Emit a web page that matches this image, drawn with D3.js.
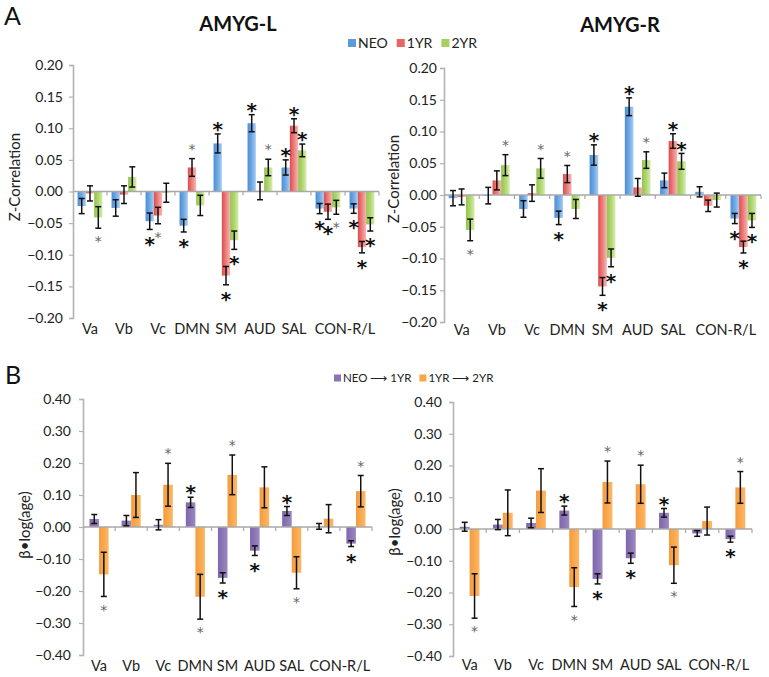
<!DOCTYPE html>
<html><head><meta charset="utf-8">
<script src="https://cdn.jsdelivr.net/npm/d3@7"></script>
<style>body{margin:0;background:#fff}</style>
</head><body>
<svg id="c" width="769" height="677"></svg>
<script>
// ---------------- DATA ----------------
const categories = ["Va","Vb","Vc","DMN","SM","AUD","SAL","CON-R","CON-L"];
const axisLabels = ["Va","Vb","Vc","DMN","SM","AUD","SAL","CON-R/L"];
const axisLabelGroups = [["Va"],["Vb"],["Vc"],["DMN"],["SM"],["AUD"],["SAL"],["CON-R","CON-L"]];
const seriesA = ["NEO","1YR","2YR"];
const seriesB = ["NEO \u27F6 1YR","1YR \u27F6 2YR"];
const yTicksA = [0.20,0.15,0.10,0.05,0.00,-0.05,-0.10,-0.15,-0.20];
const yTicksB = [0.40,0.30,0.20,0.10,0.00,-0.10,-0.20,-0.30,-0.40];

// A: AMYG-L (Z-correlation)
const amygLNeo    = [-0.023,-0.026,-0.047,-0.054, 0.076, 0.108, 0.038,-0.027,-0.027];
const amygLNeoErr = [ 0.012, 0.013, 0.013, 0.010, 0.015, 0.0135,0.012, 0.008, 0.0075];
const amygL1yr    = [-0.003,-0.005,-0.038, 0.038,-0.133, 0.001, 0.104,-0.032,-0.088];
const amygL1yrErr = [ 0.012, 0.014, 0.013, 0.014, 0.0145,0.014, 0.011, 0.012, 0.009];
const amygL2yr    = [-0.041, 0.023,-0.002,-0.022,-0.077, 0.038, 0.065,-0.025,-0.052];
const amygL2yrErr = [ 0.017, 0.016, 0.015, 0.016, 0.0145,0.013, 0.010, 0.011, 0.0105];
// significance: 0 none, 1 small asterisk, 2 bold asterisk
const amygLNeoSig = [0,0,2,2,2,2,2,2,2];
const amygL1yrSig = [0,0,1,1,2,0,2,2,2];
const amygL2yrSig = [1,0,0,0,2,1,2,1,2];

// A: AMYG-R
const amygRNeo    = [-0.005,-0.001,-0.022,-0.036, 0.063, 0.139, 0.023, 0.005,-0.037];
const amygRNeoErr = [ 0.012, 0.013, 0.013, 0.0106,0.016, 0.014, 0.0115,0.008, 0.008];
const amygR1yr    = [-0.003, 0.023, 0.003, 0.033,-0.144, 0.012, 0.085,-0.017,-0.082];
const amygR1yrErr = [ 0.0125,0.015, 0.013, 0.0135,0.014, 0.014, 0.0114,0.009, 0.0093];
const amygR2yr    = [-0.055, 0.047, 0.042,-0.022,-0.099, 0.055, 0.053,-0.008,-0.040];
const amygR2yrErr = [ 0.017, 0.0165,0.0155,0.015, 0.014, 0.013, 0.0125,0.011, 0.011];
const amygRNeoSig = [0,0,0,2,2,2,0,0,2];
const amygR1yrSig = [0,0,0,1,2,0,2,0,2];
const amygR2yrSig = [1,1,1,0,2,1,2,0,2];

// B: beta*log(age), left
const betaLNeo1yr     = [ 0.025, 0.020, 0.007, 0.077,-0.159,-0.074, 0.050, 0.002,-0.052];
const betaLNeo1yrErr  = [ 0.014, 0.016, 0.016, 0.016, 0.016, 0.015, 0.014, 0.009, 0.009];
const betaL1yr2yr     = [-0.148, 0.100, 0.132,-0.218, 0.163, 0.124,-0.143, 0.026, 0.112];
const betaL1yr2yrErr  = [ 0.069, 0.070, 0.067, 0.070, 0.062, 0.064, 0.050, 0.044, 0.049];
const betaLNeo1yrSig  = [0,0,0,2,2,2,2,0,2];
const betaL1yr2yrSig  = [1,0,1,1,1,0,1,0,1];

// B: right
const betaRNeo1yr     = [ 0.007, 0.014, 0.019, 0.058,-0.157,-0.092, 0.051,-0.014,-0.032];
const betaRNeo1yrErr  = [ 0.014, 0.016, 0.015, 0.014, 0.016, 0.016, 0.0136,0.009, 0.0094];
const betaR1yr2yr     = [-0.211, 0.051, 0.121,-0.183, 0.148, 0.141,-0.114, 0.025, 0.131];
const betaR1yr2yrErr  = [ 0.070, 0.072, 0.069, 0.061, 0.066, 0.060, 0.057, 0.044, 0.050];
const betaRNeo1yrSig  = [0,0,0,2,2,2,2,0,2];
const betaR1yr2yrSig  = [1,0,0,1,1,1,1,0,1];

// ---------------- DRAW ----------------
const FONT = "Lato, 'Open Sans', sans-serif";
const svg = d3.select("#c").style("font-family", FONT);
const defs = svg.append("defs");
function grad(id, stops){
  const g = defs.append("linearGradient").attr("id", id).attr("x1","0").attr("x2","1").attr("y1","0").attr("y2","0");
  stops.forEach((c,i)=> g.append("stop").attr("offset", (i/(stops.length-1)*100)+"%").attr("stop-color", c));
}
grad("gBlue",  ["#4d8ed6","#6ea8e4","#a9cdf1"]);
grad("gRed",   ["#de4c4a","#ec7f7d","#f6b7b5"]);
grad("gGreen", ["#93c449","#b0d672","#d7ecad"]);
grad("gPurple",["#7f67ab","#8c76b6","#9c88c2"]);
grad("gOrange",["#f59b3d","#f9a94f","#fbb868"]);

const colA = ["url(#gBlue)","url(#gRed)","url(#gGreen)"];
const colB = ["url(#gPurple)","url(#gOrange)"];
const legColA = ["#5c9ade","#e86563","#a6d161"];
const legColB = ["#8b74b4","#f9a54a"];

function drawPanel(p){
  const g = svg.append("g");
  const x0 = d3.scaleBand().domain(categories).range(p.xr).paddingInner(0).paddingOuter(0);
  const x1 = d3.scaleBand().domain(d3.range(p.series.length)).range([0, x0.bandwidth()]).paddingInner(0).paddingOuter(p.pad);
  const y = d3.scaleLinear().domain(p.dom).range(p.yr);

  // y axis
  const yAx = g.append("g").attr("transform", `translate(${p.xr[0]},0)`)
    .call(d3.axisLeft(y).tickValues(p.ticks).tickSize(4).tickPadding(p.tickPad).tickFormat(d3.format(".2f")));
  yAx.select(".domain").attr("stroke","#b3b3b3").attr("stroke-width",1.6);
  yAx.selectAll(".tick line").attr("stroke","#b3b3b3").attr("stroke-width",1.2);
  yAx.selectAll(".tick text").attr("fill","#222").style("font-size","14px").style("font-family",FONT);

  // bars
  p.series.forEach((s, si) => {
    const d = categories.map((c,i)=>({c, v:s.vals[i], e:s.errs[i], sig:s.sig[i]}));
    g.selectAll(null).data(d).enter().append("rect")
      .attr("x", k => x0(k.c) + x1(si))
      .attr("width", x1.bandwidth())
      .attr("y", k => y(Math.max(0,k.v)))
      .attr("height", k => Math.abs(y(k.v) - y(0)))
      .attr("fill", s.fill);
  });

  // zero line with ticks
  g.append("line").attr("x1",p.xr[0]).attr("x2",p.xr[1]).attr("y1",y(0)).attr("y2",y(0))
    .attr("stroke","#a8a8a8").attr("stroke-width",1.6);
  const bounds = categories.map(c=>x0(c)).slice(1).concat([p.xr[1]]);
  g.selectAll(null).data(bounds).enter().append("line")
    .attr("x1",d=>d).attr("x2",d=>d).attr("y1",y(0)).attr("y2",y(0)+4)
    .attr("stroke","#a8a8a8").attr("stroke-width",1.2);

  // error bars and asterisks
  p.series.forEach((s, si) => {
    const d = categories.map((c,i)=>({c, v:s.vals[i], e:s.errs[i], sig:s.sig[i]}));
    const cx = k => x0(k.c) + x1(si) + x1.bandwidth()/2;
    const eb = g.selectAll(null).data(d).enter().append("g").attr("stroke","#111").attr("stroke-width",1.5);
    eb.append("line").attr("x1",cx).attr("x2",cx).attr("y1",k=>y(k.v+k.e)).attr("y2",k=>y(k.v-k.e));
    eb.append("line").attr("x1",k=>cx(k)-3).attr("x2",k=>cx(k)+3).attr("y1",k=>y(k.v+k.e)).attr("y2",k=>y(k.v+k.e));
    eb.append("line").attr("x1",k=>cx(k)-3).attr("x2",k=>cx(k)+3).attr("y1",k=>y(k.v-k.e)).attr("y2",k=>y(k.v-k.e));

    g.selectAll(null).data(d.filter(k=>k.sig>0)).enter().append("text")
      .text("*")
      .attr("text-anchor","middle")
      .attr("x", cx)
      .attr("y", k => {
        const big = k.sig===2, fs = big?20:14;
        const off = big ? 9.5 : (k.v>=0 ? 13 : 10);
        const c = k.v>=0 ? y(k.v+k.e) - off : y(k.v-k.e) + off;
        return c + 0.58*fs;
      })
      .style("font-family","'DejaVu Sans', sans-serif")
      .style("font-weight", k=>k.sig===2?"bold":"normal")
      .style("font-size", k=>k.sig===2?"20px":"14px")
      .attr("fill", k=>k.sig===2?"#111":"#666");
  });

  // category labels
  g.selectAll(null).data(axisLabelGroups).enter().append("text")
    .attr("x", grp => d3.mean(grp, c => x0(c) + x0.bandwidth()/2))
    .attr("y", p.catY)
    .attr("text-anchor","middle")
    .style("font-size","14.5px").attr("fill","#222")
    .text((grp,i)=>axisLabels[i]);

  // y label
  g.append("text").attr("transform",`translate(${p.ylab[0]},${p.ylab[1]}) rotate(-90)`)
    .attr("text-anchor","middle").style("font-size","15px").attr("fill","#222").text(p.ylabText);

  // title
  if (p.title) g.append("text").attr("x",p.titleXY[0]).attr("y",p.titleXY[1]).attr("text-anchor","middle")
    .style("font-size","20px").style("font-weight","bold").attr("fill","#111").text(p.title);
}

const mk = (vals, errs, sig, fill) => ({vals, errs, sig, fill});

drawPanel({xr:[73,379], yr:[318,65], dom:[-0.2,0.2], ticks:yTicksA, tickPad:6, pad:0.55,
  series:[mk(amygLNeo,amygLNeoErr,amygLNeoSig,colA[0]), mk(amygL1yr,amygL1yrErr,amygL1yrSig,colA[1]), mk(amygL2yr,amygL2yrErr,amygL2yrSig,colA[2])],
  catY:334, ylab:[20,177], ylabText:"Z-Correlation", title:"AMYG-L", titleXY:[238,31]});
drawPanel({xr:[444,761], yr:[322,68], dom:[-0.2,0.2], ticks:yTicksA, tickPad:3, pad:0.55,
  series:[mk(amygRNeo,amygRNeoErr,amygRNeoSig,colA[0]), mk(amygR1yr,amygR1yrErr,amygR1yrSig,colA[1]), mk(amygR2yr,amygR2yrErr,amygR2yrSig,colA[2])],
  catY:335, ylab:[399,179], ylabText:"Z-Correlation", title:"AMYG-R", titleXY:[620,32]});
drawPanel({xr:[83,372], yr:[655,399], dom:[-0.4,0.4], ticks:yTicksB, tickPad:8, pad:0.68,
  series:[mk(betaLNeo1yr,betaLNeo1yrErr,betaLNeo1yrSig,colB[0]), mk(betaL1yr2yr,betaL1yr2yrErr,betaL1yr2yrSig,colB[1])],
  catY:671, ylab:[30,525], ylabText:"\u03B2\u2022log(age)"});
drawPanel({xr:[453,752], yr:[656,402], dom:[-0.4,0.4], ticks:yTicksB, tickPad:7, pad:0.68,
  series:[mk(betaRNeo1yr,betaRNeo1yrErr,betaRNeo1yrSig,colB[0]), mk(betaR1yr2yr,betaR1yr2yrErr,betaR1yr2yrSig,colB[1])],
  catY:670, ylab:[400,522], ylabText:"\u03B2\u2022log(age)"});

// panel letters
svg.append("text").attr("x",4).attr("y",25).style("font-size","25px").attr("fill","#111").text("A");
svg.append("text").attr("x",5).attr("y",384).style("font-size","25px").attr("fill","#111").text("B");

// legends
function legend(items, colors, x, yc, fs, sq, gap){
  let cx = x;
  items.forEach((t,i)=>{
    svg.append("rect").attr("x",cx).attr("y",yc-sq/2).attr("width",sq).attr("height",sq).attr("fill",colors[i]);
    const tx = svg.append("text").attr("x",cx+sq+2).attr("y",yc+fs*0.36).style("font-size",fs+"px").attr("fill","#222").text(t);
    cx += sq + 2 + tx.node().getComputedTextLength() + gap;
  });
}
legend(seriesA, legColA, 348, 43, 14, 8, 9);
legend(seriesB, legColB, 334, 378, 11.5, 7, 8);
</script>
</body></html>
